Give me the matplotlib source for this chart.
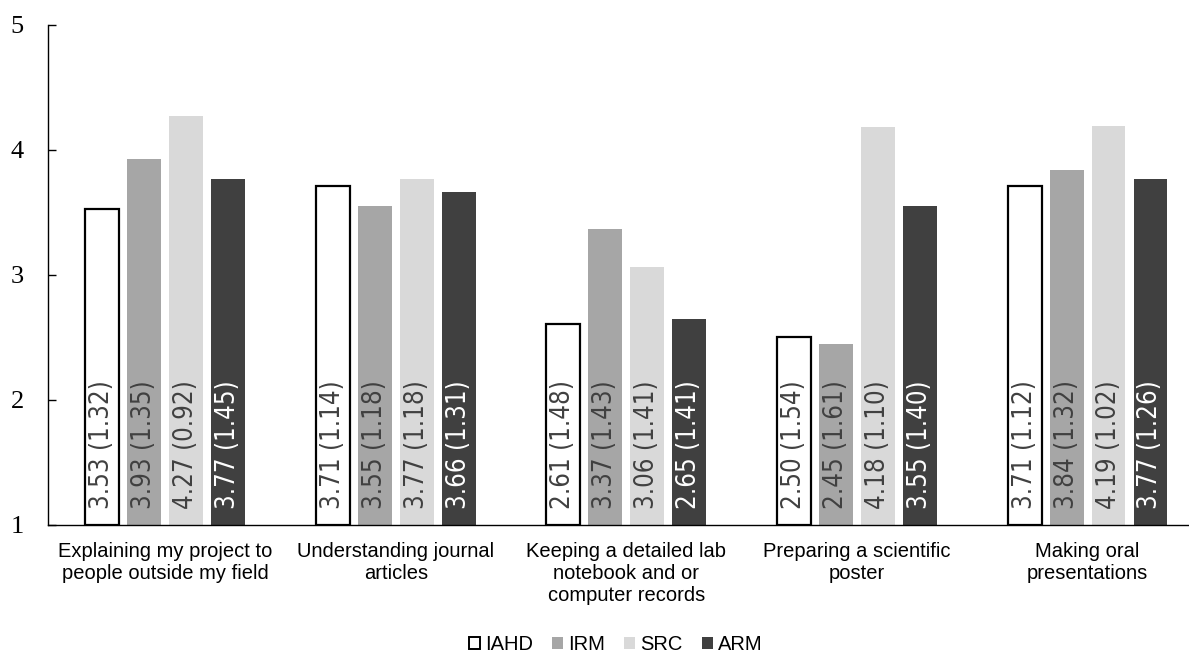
import matplotlib
matplotlib.use("Agg")
import matplotlib.pyplot as plt
from matplotlib.patches import Patch
import numpy as np

# survey items and group scores, mean (sd)
categories = ["Explaining my project to\npeople outside my field",
              "Understanding journal\narticles",
              "Keeping a detailed lab\nnotebook and or\ncomputer records",
              "Preparing a scientific\nposter",
              "Making oral\npresentations"]
groups = ["IAHD", "IRM", "SRC", "ARM"]

iahd_mean = [3.53, 3.71, 2.61, 2.50, 3.71]
iahd_sd = [1.32, 1.14, 1.48, 1.54, 1.12]
irm_mean = [3.93, 3.55, 3.37, 2.45, 3.84]
irm_sd = [1.35, 1.18, 1.43, 1.61, 1.32]
src_mean = [4.27, 3.77, 3.06, 4.18, 4.19]
src_sd = [0.92, 1.18, 1.41, 1.10, 1.02]
arm_mean = [3.77, 3.66, 2.65, 3.55, 3.77]
arm_sd = [1.45, 1.31, 1.41, 1.40, 1.26]

means = [iahd_mean, irm_mean, src_mean, arm_mean]
sds = [iahd_sd, irm_sd, src_sd, arm_sd]
faces = ["white", "#a6a6a6", "#d9d9d9", "#404040"]
edges = ["black", "none", "none", "none"]
txtcol = ["#404040", "#404040", "#404040", "white"]

fig = plt.figure(figsize=(11.89, 6.56), dpi=100)
ax = fig.add_axes([0.0400, 0.1997, 0.9600, 0.7622])

x = np.arange(len(categories))
step = 0.182
width = 0.147
for i in range(4):
    xs = x + (i - 1.5) * step
    ax.bar(xs, np.array(means[i]) - 1, bottom=1, width=width,
           color=faces[i], edgecolor=edges[i], linewidth=1.6 if i == 0 else 0)
    for xi, m, s in zip(xs, means[i], sds[i]):
        ax.annotate("%.2f (%.2f)" % (m, s), (xi, 1), xytext=(0, 11.5),
                    textcoords="offset points", rotation=90,
                    ha="center", va="bottom", color=txtcol[i],
                    family="DejaVu Sans", fontstretch="condensed", fontsize=18.5)

ax.set_xlim(-0.51, 4.44)
ax.set_ylim(1, 5)
ax.set_yticks([1, 2, 3, 4, 5])
ax.set_xticks(x)
ax.set_xticklabels(categories, family="Liberation Sans", fontsize=14.5)
for lab in ax.get_yticklabels():
    lab.set_family("Liberation Serif")
    lab.set_fontsize(19)
ax.tick_params(axis="y", direction="in", length=6, width=1, pad=17)
ax.tick_params(axis="x", length=0, pad=12)
for s in ["top", "right"]:
    ax.spines[s].set_visible(False)
ax.spines["left"].set_linewidth(1)
ax.spines["bottom"].set_linewidth(1)

handles = [Patch(facecolor=faces[i], edgecolor="black" if i == 0 else faces[i],
                 linewidth=1.4 if i == 0 else 0) for i in range(4)]
fig.legend(handles, groups, loc="center", bbox_to_anchor=(0.518, 0.018),
           ncol=4, frameon=False, handlelength=0.55, handleheight=0.55,
           handletextpad=0.25, columnspacing=0.95, borderpad=0.2,
           prop={"family": "Liberation Sans", "size": 14.5})

fig.savefig("out.png", dpi=100)
